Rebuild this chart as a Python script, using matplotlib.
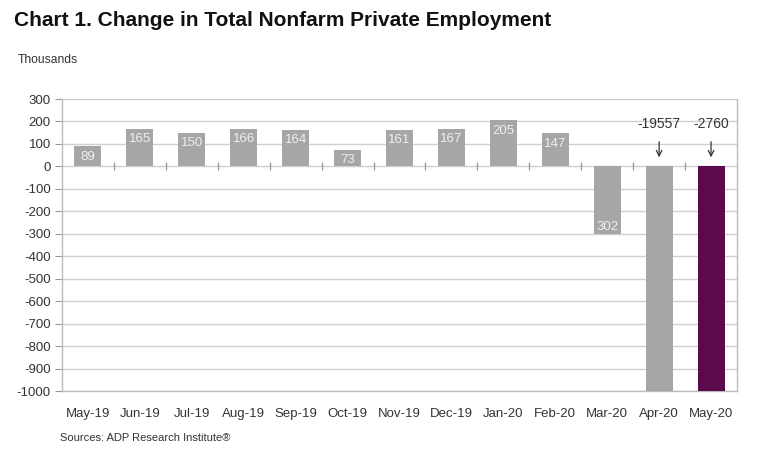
import matplotlib
matplotlib.use("Agg")
import matplotlib.pyplot as plt
import numpy as np

plt.rcParams['font.family'] = ['Liberation Sans', 'DejaVu Sans']

months = ["May-19", "Jun-19", "Jul-19", "Aug-19", "Sep-19", "Oct-19", "Nov-19",
          "Dec-19", "Jan-20", "Feb-20", "Mar-20", "Apr-20", "May-20"]
values = [89, 165, 150, 166, 164, 73, 161, 167, 205, 147, -302, -19557, -2760]
yticks = list(range(-1000, 301, 100))

grey = "#a6a6a6"
purple = "#5c0a4e"
colors = [grey] * (len(values) - 1) + [purple]

fig = plt.figure(figsize=(7.6, 4.61), dpi=100)
ax = fig.add_axes([62/760, 1 - 391/461, (737-62)/760, (391-99)/461])

x = np.arange(len(months))
bars = ax.bar(x, values, width=0.52, color=colors, zorder=3)

ax.set_ylim(-1000, 300)
ax.set_xlim(-0.5, len(months) - 0.5)
ax.set_yticks(yticks)
ax.set_yticklabels([str(v) for v in yticks], fontsize=9.5, color="#333333")
ax.set_xticks(x)
ax.set_xticklabels(months, fontsize=9.5, color="#333333")
ax.tick_params(axis='x', length=0, pad=12)
ax.tick_params(axis='y', length=5, width=0.8, color="#999999", pad=3)
ax.yaxis.grid(True, color="#d0d0d0", linewidth=1, zorder=0)
for s in ['top']:
    ax.spines[s].set_visible(False)
for s in ['left', 'right', 'bottom']:
    ax.spines[s].set_color("#bbbbbb")
    ax.spines[s].set_linewidth(1)

# category separator ticks on zero line
bounds = x[:-1] + 0.5
ax.plot(bounds, np.zeros_like(bounds), linestyle='none', marker='|',
        markersize=6, markeredgewidth=0.9, color="#999999", zorder=4)

# value labels
for xi, v in zip(x, values):
    if v >= 0:
        ax.annotate(str(v), (xi, v), xytext=(0, -3), textcoords='offset points',
                    ha='center', va='top', fontsize=9.5, color="#f0f0f0", zorder=5)
    elif v > -1000:
        ax.annotate(str(v).lstrip('-'), (xi, v), xytext=(0, 1), textcoords='offset points',
                    ha='center', va='bottom', fontsize=9.5, color="#f0f0f0", zorder=5)
    else:
        ax.text(xi, 187, str(v), ha='center', va='center', fontsize=10, color="#333333")
        ax.annotate("", xy=(xi, 28), xytext=(xi, 122),
                    arrowprops=dict(arrowstyle='->', color="#333333", lw=0.9))

fig.text(14/760, 1 - 20/461, "Chart 1. Change in Total Nonfarm Private Employment",
         fontsize=15, fontweight='bold', va='center', ha='left', color="#111111")
fig.text(18/760, 1 - 60/461, "Thousands", fontsize=8.7, va='center', ha='left', color="#333333")
fig.text(60/760, 1 - 438/461, "Sources: ADP Research Institute\u00ae", fontsize=8,
         va='center', ha='left', color="#333333")

fig.savefig("out.png", dpi=100)
